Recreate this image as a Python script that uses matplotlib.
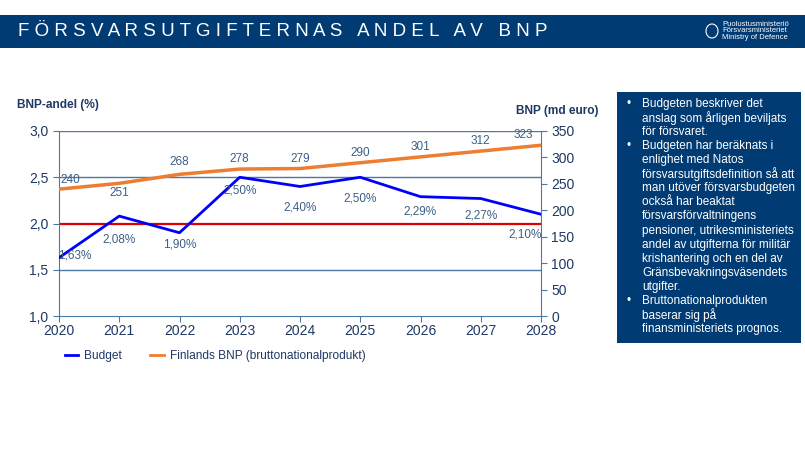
import matplotlib.pyplot as plt
from matplotlib.patches import Rectangle, Ellipse
from matplotlib.lines import Line2D

years = [2020, 2021, 2022, 2023, 2024, 2025, 2026, 2027, 2028]
budget_pct = [1.63, 2.08, 1.90, 2.50, 2.40, 2.50, 2.29, 2.27, 2.10]
bnp_md = [240, 251, 268, 278, 279, 290, 301, 312, 323]
budget_labels = ['1,63%', '2,08%', '1,90%', '2,50%', '2,40%', '2,50%', '2,29%', '2,27%', '2,10%']
left_ticks = [1.0, 1.5, 2.0, 2.5, 3.0]
left_ticklabels = ['1,0', '1,5', '2,0', '2,5', '3,0']
right_ticks = [0, 50, 100, 150, 200, 250, 300, 350]

# label offsets in pixels (dx, dy) relative to the point
budget_off = [(16, 2), (0, -23), (0, -12), (0, -13), (0, -21), (0, -21), (0, -15), (0, -17), (-16, -20)]
bnp_off = [(11, 9), (0, -10), (0, 12), (0, 10), (0, 10), (0, 10), (0, 10), (0, 10), (-18, 10)]

navy = '#003b73'
axis_col = '#4a79a5'
tick_col = '#1f3864'
lab_col = '#3c5f86'
blue = '#0000ff'
orange = '#ed7d31'

plt.rcParams['font.family'] = ['Liberation Sans', 'DejaVu Sans']

fig = plt.figure(figsize=(8.05, 4.53), dpi=100)

# banner
fig.patches.append(Rectangle((0, 1 - 48 / 453), 1, 33 / 453, transform=fig.transFigure,
                             facecolor=navy, edgecolor='none'))
fig.text(18 / 805, 1 - 32 / 453, '   '.join(' '.join(w) for w in 'FÖRSVARSUTGIFTERNAS ANDEL AV BNP'.split()),
         color='white', fontsize=13.5, va='center', ha='left')
fig.patches.append(Ellipse((712 / 805, 1 - 31 / 453), 12 / 805, 14 / 453, transform=fig.transFigure,
                           facecolor='none', edgecolor='white', lw=0.8))
fig.text(722 / 805, 1 - 31 / 453, 'Puolustusministeriö\nFörsvarsministeriet\nMinistry of Defence',
         color='white', fontsize=5.5, va='center', ha='left', linespacing=0.95)

ax = fig.add_axes([59 / 805, 1 - 316 / 453, 482 / 805, 185 / 453])
ax2 = ax.twinx()

ax.set_ylim(1.0, 3.0)
ax.set_xlim(years[0], years[-1])
ax2.set_ylim(0, 350)
for y in [1.5, 2.5, 3.0]:
    ax.axhline(y, color=axis_col, lw=1.0, zorder=1)
ax.axhline(2.0, color='#e00000', lw=1.6, zorder=2)
ax.plot(years, budget_pct, color=blue, lw=2, zorder=3)
ax2.plot(years, bnp_md, color=orange, lw=2.5, zorder=3)

for x, y, s, (dx, dy) in zip(years, budget_pct, budget_labels, budget_off):
    ax.annotate(s, (x, y), xytext=(dx, dy), textcoords='offset pixels',
                ha='center', va='center', color=lab_col, fontsize=8.5)
for x, y, (dx, dy) in zip(years, bnp_md, bnp_off):
    ax2.annotate(str(y), (x, y), xytext=(dx, dy), textcoords='offset pixels',
                 ha='center', va='center', color=lab_col, fontsize=8.5)

ax.set_xticks(years)
ax.set_xticklabels([str(y) for y in years])
ax.set_yticks(left_ticks)
ax.set_yticklabels(left_ticklabels)
ax2.set_yticks(right_ticks)
for a in (ax, ax2):
    for sp in a.spines.values():
        sp.set_visible(False)
    a.tick_params(colors=axis_col, labelcolor=tick_col, labelsize=10, length=4, direction='out')
ax.spines['left'].set_visible(True)
ax.spines['left'].set_color(axis_col)
ax.spines['bottom'].set_visible(True)
ax.spines['bottom'].set_color(axis_col)
ax2.spines['right'].set_visible(True)
ax2.spines['right'].set_color(axis_col)
ax.tick_params(axis='x', pad=2)

fig.text(17 / 805, 1 - 105 / 453, 'BNP-andel (%)', color=tick_col, fontsize=8.6,
         fontweight='bold', va='center')
fig.text(598 / 805, 1 - 111 / 453, 'BNP (md euro)', color=tick_col, fontsize=8.6,
         fontweight='bold', va='center', ha='right')

handles = [Line2D([], [], color=blue, lw=2), Line2D([], [], color=orange, lw=2)]
fig.legend(handles, ['Budget', 'Finlands BNP (bruttonationalprodukt)'], loc='center left',
           bbox_to_anchor=(54 / 805, 1 - 356 / 453), ncol=2, frameon=False, fontsize=8.6,
           labelcolor=tick_col, handlelength=1.15, handletextpad=0.45, columnspacing=2.4)

# info box
fig.patches.append(Rectangle((617 / 805, 1 - 343 / 453), 184 / 805, 251 / 453,
                             transform=fig.transFigure, facecolor=navy, edgecolor='none'))
bullets = [
    ['Budgeten beskriver det', 'anslag som årligen beviljats', 'för försvaret.'],
    ['Budgeten har beräknats i', 'enlighet med Natos', 'försvarsutgiftsdefinition så att',
     'man utöver försvarsbudgeten', 'också har beaktat', 'försvarsförvaltningens',
     'pensioner, utrikesministeriets', 'andel av utgifterna för militär',
     'krishantering och en del av', 'Gränsbevakningsväsendets', 'utgifter.'],
    ['Bruttonationalprodukten', 'baserar sig på', 'finansministeriets prognos.'],
]
y = 104
for b in bullets:
    fig.text(626 / 805, 1 - y / 453, '•', color='white', fontsize=8.5, va='center')
    for line in b:
        fig.text(642 / 805, 1 - y / 453, line, color='white', fontsize=8.5, va='center')
        y += 14.06

fig.savefig('out.png', dpi=100)
